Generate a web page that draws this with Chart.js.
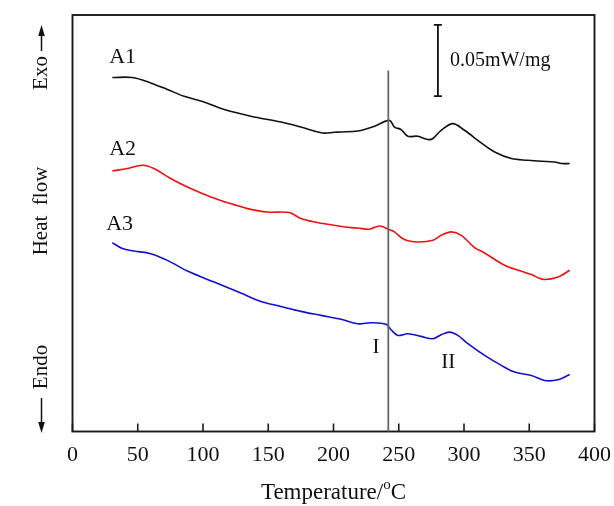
<!DOCTYPE html>
<html>
<head>
<meta charset="utf-8">
<script src="https://cdn.jsdelivr.net/npm/chart.js@4.4.1/dist/chart.umd.min.js"></script>
<style>
html,body{margin:0;padding:0;background:#fff;}
#wrap{width:614px;height:506px;position:relative;}
</style>
</head>
<body>
<div id="wrap"><canvas id="c" width="614" height="506"></canvas></div>
<script>
// Temperature (°C) and heat flow (mW/mg, relative offset)
const tempA1 = [30.5,45.8,59.9,72.7,85.5,100.8,116.2,136.7,159.7,175.0,191.7,200.6,205.8,218.6,231.3,242.8,246.7,251.8,257.0,264.6,272.3,276.2,282.5,291.5,300.4,313.2,323.5,336.3,349.1,359.3,369.5,374.7,381.0];
const heatA1 = [0.2490,0.2490,0.2452,0.2406,0.2358,0.2318,0.2265,0.2218,0.2177,0.2142,0.2100,0.2105,0.2107,0.2114,0.2147,0.2189,0.2142,0.2124,0.2077,0.2077,0.2054,0.2061,0.2119,0.2166,0.2119,0.2030,0.1966,0.1920,0.1908,0.1901,0.1896,0.1885,0.1885];

const tempA2 = [30.5,42.0,53.5,62.4,75.2,90.6,106.0,123.8,134.1,149.5,166.1,175.0,185.3,200.6,213.4,218.6,227.5,235.2,242.8,246.7,254.4,264.6,276.2,282.5,290.2,297.9,308.1,315.8,331.1,344.0,351.6,360.6,372.1,381.0];
const heatA2 = [0.1833,0.1850,0.1873,0.1850,0.1780,0.1709,0.1650,0.1596,0.1568,0.1544,0.1540,0.1498,0.1474,0.1451,0.1434,0.1432,0.1423,0.1446,0.1420,0.1404,0.1350,0.1333,0.1345,0.1380,0.1404,0.1380,0.1294,0.1256,0.1169,0.1127,0.1104,0.1070,0.1087,0.1134];

const tempA3 = [30.5,38.2,47.1,59.9,72.7,88.1,108.5,129.0,144.3,159.7,175.0,190.4,205.8,218.6,228.8,240.3,244.1,249.3,257.0,267.2,276.2,282.5,288.9,295.3,303.0,315.8,328.6,338.8,351.6,361.8,372.1,381.0];
const heatA3 = [0.1329,0.1287,0.1270,0.1251,0.1204,0.1129,0.1051,0.0974,0.0915,0.0880,0.0845,0.0817,0.0789,0.0758,0.0765,0.0754,0.0716,0.0676,0.0688,0.0669,0.0653,0.0681,0.0699,0.0676,0.0618,0.0535,0.0465,0.0418,0.0394,0.0359,0.0364,0.0401];

const seriesNames = ['A1','A2','A3'];
const seriesColors = ['#111111','#ee1111','#1111cc'];
const xTicks = [0,50,100,150,200,250,300,350,400];
const markerTemp = 242;        // vertical line
const markerTop = 0.254;
const scaleBarTemp = 280;      // 0.05 mW/mg bar
const scaleBarTop = 0.286;
const scaleBarSize = 0.05;
const scaleBarLabel = '0.05mW/mg';
const curveLabels = [ {t:'A1', x:38.4, y:0.2634}, {t:'A2', x:38.4, y:0.1986}, {t:'A3', x:36.1, y:0.1458} ];
const regionLabels = [ {t:'I', x:232.5, y:0.0594}, {t:'II', x:288.0, y:0.0482} ];

const SERIF = '"Liberation Serif","DejaVu Serif",serif';

function pts(t, h){ return t.map((v,i)=>({x:v, y:h[i]})); }

const datasets = [pts(tempA1,heatA1), pts(tempA2,heatA2), pts(tempA3,heatA3)].map((d,i)=>({
  label: seriesNames[i], data: d, borderColor: seriesColors[i], borderWidth: 1.6,
  pointRadius: 0, tension: 0.35, fill: false
}));

const decor = {
  id: 'decor',
  afterDraw(chart){
    const ctx = chart.ctx, a = chart.chartArea, xs = chart.scales.x, ys = chart.scales.y;
    ctx.save();
    // frame
    ctx.strokeStyle = '#1a1a1a'; ctx.lineWidth = 1.9;
    ctx.strokeRect(a.left, a.top, a.right-a.left, a.bottom-a.top);
    // inward ticks
    ctx.lineWidth = 1.6;
    xTicks.forEach(v=>{
      const px = xs.getPixelForValue(v);
      ctx.beginPath(); ctx.moveTo(px, a.bottom); ctx.lineTo(px, a.bottom-8); ctx.stroke();
    });
    // vertical marker
    ctx.strokeStyle = '#666'; ctx.lineWidth = 1.8;
    const mx = xs.getPixelForValue(markerTemp);
    ctx.beginPath(); ctx.moveTo(mx, ys.getPixelForValue(markerTop)); ctx.lineTo(mx, a.bottom); ctx.stroke();
    // scale bar
    ctx.strokeStyle = '#111'; ctx.lineWidth = 1.8;
    const bx = xs.getPixelForValue(scaleBarTemp);
    const by1 = ys.getPixelForValue(scaleBarTop), by2 = ys.getPixelForValue(scaleBarTop-scaleBarSize);
    ctx.beginPath();
    ctx.moveTo(bx, by1); ctx.lineTo(bx, by2);
    ctx.moveTo(bx-4, by1); ctx.lineTo(bx+4, by1);
    ctx.moveTo(bx-4, by2); ctx.lineTo(bx+4, by2);
    ctx.stroke();
    ctx.fillStyle = '#111';
    ctx.font = '20px ' + SERIF;
    ctx.textBaseline = 'middle'; ctx.textAlign = 'left';
    ctx.fillText(scaleBarLabel, bx + 12, (by1+by2)/2);
    // curve labels
    ctx.textAlign = 'center';
    ctx.font = '22px ' + SERIF;
    curveLabels.forEach(l=> ctx.fillText(l.t, xs.getPixelForValue(l.x), ys.getPixelForValue(l.y)));
    ctx.font = '21px ' + SERIF;
    regionLabels.forEach(l=> ctx.fillText(l.t, xs.getPixelForValue(l.x), ys.getPixelForValue(l.y)));
    // x title
    const big = '23px ' + SERIF, small = '15px ' + SERIF;
    const p1 = 'Temperature/', p2 = 'o', p3 = 'C';
    ctx.font = big;
    const w1 = ctx.measureText(p1).width, w3 = ctx.measureText(p3).width;
    ctx.font = small; const w2 = ctx.measureText(p2).width;
    const cx = (a.left + a.right)/2, total = w1+w2+w3, ty = 493;
    let sx = cx - total/2;
    ctx.textAlign = 'left';
    ctx.font = big; ctx.fillText(p1, sx, ty);
    ctx.font = small; ctx.fillText(p2, sx+w1, ty-8);
    ctx.font = big; ctx.fillText(p3, sx+w1+w2, ty);
    // y labels (rotated)
    const lx = 41.5;
    ctx.save();
    ctx.translate(lx, 0);
    ctx.rotate(-Math.PI/2);
    ctx.font = '21px ' + SERIF; ctx.textAlign = 'center'; ctx.textBaseline = 'middle';
    ctx.fillText('Exo', -73, 0);
    ctx.fillText('Heat  flow', -211, 0);
    ctx.fillText('Endo', -367, 0);
    ctx.restore();
    // arrows
    ctx.strokeStyle = '#111'; ctx.fillStyle = '#111'; ctx.lineWidth = 1.5;
    ctx.beginPath(); ctx.moveTo(lx, 51); ctx.lineTo(lx, 34); ctx.stroke();
    ctx.beginPath(); ctx.moveTo(lx, 25); ctx.lineTo(lx-3.3, 36); ctx.lineTo(lx+3.3, 36); ctx.closePath(); ctx.fill();
    ctx.beginPath(); ctx.moveTo(lx, 398); ctx.lineTo(lx, 424); ctx.stroke();
    ctx.beginPath(); ctx.moveTo(lx, 433); ctx.lineTo(lx-3.3, 422); ctx.lineTo(lx+3.3, 422); ctx.closePath(); ctx.fill();
    ctx.restore();
  }
};

new Chart(document.getElementById('c'), {
  type: 'line',
  data: { datasets },
  options: {
    responsive: false, animation: false,
    layout: { padding: { top: 15, right: 19.5, left: 0, bottom: 0 } },
    plugins: { legend: { display: false }, tooltip: { enabled: false } },
    scales: {
      x: {
        type: 'linear', min: 0, max: 400,
        afterBuildTicks: s => { s.ticks = xTicks.map(v=>({value:v})); },
        ticks: { color: '#111', font: { family: SERIF, size: 22 }, padding: 3, maxRotation: 0 },
        grid: { display: false }, border: { display: false },
        afterFit: s => { s.height = 74.5; }
      },
      y: {
        type: 'linear', min: 0, max: 0.293,
        ticks: { display: false }, grid: { display: false }, border: { display: false },
        afterFit: s => { s.width = 72.5; }
      }
    }
  },
  plugins: [decor]
});
</script>
</body>
</html>
